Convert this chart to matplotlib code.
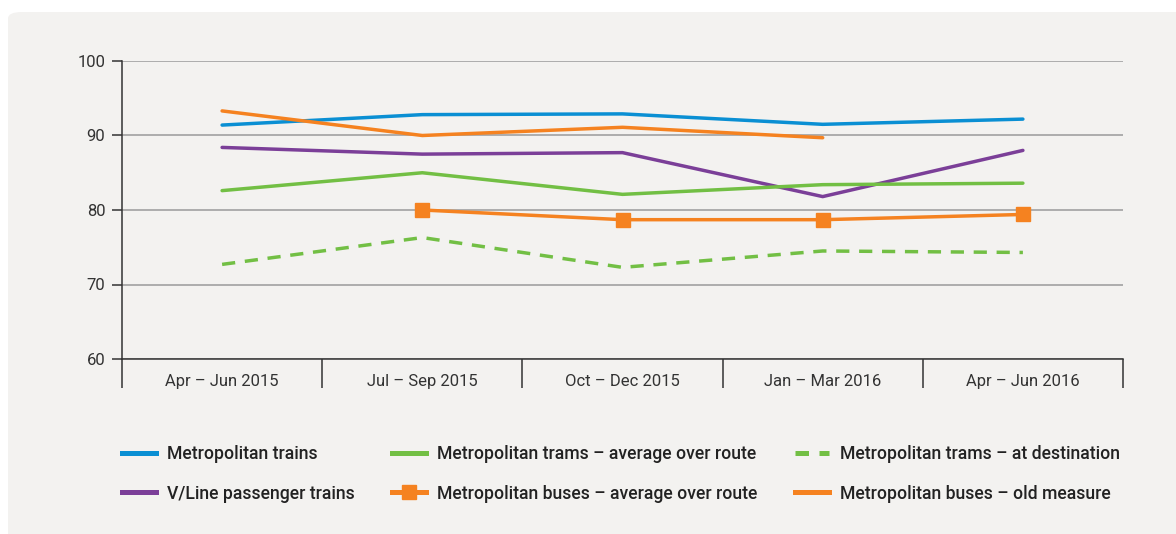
import matplotlib.pyplot as plt
from matplotlib.patches import FancyBboxPatch
from matplotlib.lines import Line2D

# --------------------------------------------------
# DATA
# --------------------------------------------------

quarters = [
    "Apr – Jun 2015",
    "Jul – Sep 2015",
    "Oct – Dec 2015",
    "Jan – Mar 2016",
    "Apr – Jun 2016",
]

metro_trains = [91.4, 92.8, 92.9, 91.5, 92.2]
vline_trains = [88.4, 87.5, 87.7, 81.8, 88.0]
trams_avg = [82.6, 85.0, 82.1, 83.4, 83.6]
trams_dest = [72.7, 76.3, 72.3, 74.5, 74.3]
buses_avg = [None, 80.0, 78.7, 78.7, 79.4]
buses_old = [93.3, 90.0, 91.1, 89.7, None]

y_ticks = [60, 70, 80, 90, 100]

# --------------------------------------------------
# STYLE
# --------------------------------------------------

BLUE = "#0a8fd3"
PURPLE = "#7b3f98"
GREEN = "#72bf44"
ORANGE = "#f58220"
PANEL = "#f3f2f0"
DARK = "#333333"

plt.rcParams["font.family"] = ["Roboto", "DejaVu Sans"]

fig = plt.figure(figsize=(11.76, 5.34), dpi=100, facecolor="white")

# grey panel behind the chart, rounded top-left corner, runs off right/bottom
panel = FancyBboxPatch(
    (8 / 1176, -0.2), 1.2, 1.2 - 12 / 534,
    boxstyle="round,pad=0,rounding_size=0.012",
    transform=fig.transFigure, facecolor=PANEL, edgecolor="none",
    zorder=-10,
)
fig.patches.append(panel)

ax = fig.add_axes([122 / 1176, 1 - 359 / 534, 1001 / 1176, 298 / 534])
ax.set_facecolor("none")

x = list(range(len(quarters)))


def pts(values):
    xs = [i for i, v in zip(x, values) if v is not None]
    ys = [v for v in values if v is not None]
    return xs, ys


lw = 2.5
ax.plot(*pts(metro_trains), color=BLUE, lw=lw, solid_capstyle="round")
ax.plot(*pts(buses_old), color=ORANGE, lw=lw, solid_capstyle="round")
ax.plot(*pts(vline_trains), color=PURPLE, lw=lw, solid_capstyle="round")
ax.plot(*pts(trams_avg), color=GREEN, lw=lw, solid_capstyle="round")
ax.plot(*pts(buses_avg), color=ORANGE, lw=lw, marker="s", markersize=9.5)
ax.plot(*pts(trams_dest), color=GREEN, lw=lw, dashes=(3.8, 2.8))

ax.set_xlim(-0.5, len(quarters) - 0.5)
ax.set_ylim(60, 100)

ax.set_yticks(y_ticks)
ax.set_yticklabels([str(v) for v in y_ticks])
ax.grid(axis="y", color="#9a9a9a", lw=1.1)
ax.set_axisbelow(True)

ax.set_xticks([i - 0.5 for i in range(len(quarters) + 1)])
ax.set_xticklabels([])
ax.set_xticks(x, minor=True)
ax.set_xticklabels(quarters, minor=True)

ax.tick_params(axis="x", which="major", length=21, width=1.1,
               color=DARK, direction="out")
ax.tick_params(axis="x", which="minor", length=0, pad=11,
               labelsize=12, labelcolor=DARK)
ax.tick_params(axis="y", length=7, width=1.1, color=DARK,
               pad=5, labelsize=12, labelcolor=DARK)

for side in ["top", "right"]:
    ax.spines[side].set_visible(False)
for side in ["left", "bottom"]:
    ax.spines[side].set_color(DARK)
    ax.spines[side].set_linewidth(1.1)

# --------------------------------------------------
# LEGEND
# --------------------------------------------------

hlw = 3.6
handles = [
    Line2D([], [], color=BLUE, lw=hlw),
    Line2D([], [], color=PURPLE, lw=hlw),
    Line2D([], [], color=GREEN, lw=hlw),
    Line2D([], [], color=ORANGE, lw=hlw, marker="s", markersize=10),
    Line2D([], [], color=GREEN, lw=hlw, dashes=(2.7, 2.1)),
    Line2D([], [], color=ORANGE, lw=hlw),
]
labels = [
    "Metropolitan trains",
    "V/Line passenger trains",
    "Metropolitan trams – average over route",
    "Metropolitan buses – average over route",
    "Metropolitan trams – at destination",
    "Metropolitan buses – old measure",
]

fig.legend(
    handles, labels,
    loc="upper left",
    bbox_to_anchor=(122 / 1176, 1 - 445 / 534),
    ncol=3, frameon=False,
    prop={"size": 12.7, "weight": "medium"},
    handlelength=1.92, handletextpad=0.63,
    columnspacing=2.12, labelspacing=1.22,
    borderpad=0, borderaxespad=0,
    labelcolor="#222222",
)

fig.savefig("out.png", dpi=100, facecolor="white")
